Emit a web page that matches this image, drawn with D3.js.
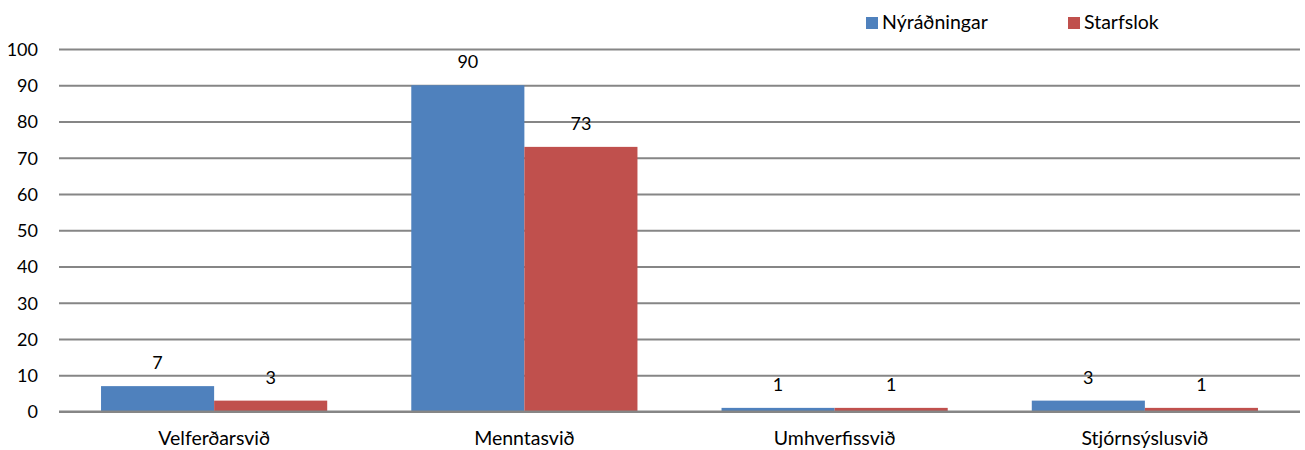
<!DOCTYPE html>
<html><head><meta charset="utf-8">
<script src="https://cdn.jsdelivr.net/npm/d3@7"></script>
<style>body{margin:0;background:#fff;} text{font-family:Lato,"Open Sans",sans-serif;fill:#000;}</style>
</head><body>
<svg id="c" width="1305" height="450"></svg>
<script>
const categories = ["Velferðarsvið","Menntasvið","Umhverfissvið","Stjórnsýslusvið"];
const seriesNames = ["Nýráðningar","Starfslok"];
const nyradningar = [7, 90, 1, 3];
const starfslok = [3, 73, 1, 1];
const yTicks = [0,10,20,30,40,50,60,70,80,90,100];
const colors = ["#4F81BD","#C0504D"];
const values = [nyradningar, starfslok];

(function(){
const FS = 18, FS2 = 19.5;
const svg = d3.select("#c");
const pLeft = 59, pRight = 1300, pTop = 49, pBottom = 411.5;
const x0 = d3.scaleBand().domain(categories).range([pLeft,pRight]);
const y = d3.scaleLinear().domain([0,100]).range([pBottom, pTop]);
const xs = d3.scaleBand().domain(seriesNames).range([0, x0.bandwidth()]).paddingInner(0).paddingOuter(42/113);

// gridlines
const yAxis = d3.axisLeft(y).tickValues(yTicks).tickSize(-(pRight-pLeft)).tickPadding(21);
const ga = svg.append("g").attr("transform",`translate(${pLeft},0)`).call(yAxis);
ga.select(".domain").remove();
ga.selectAll(".tick line").attr("stroke","#868686").attr("stroke-width",2);
ga.selectAll(".tick text").attr("font-size",FS).attr("dy","0.36em").style("font-family","Lato,'Open Sans',sans-serif");

// bars
seriesNames.forEach((s,si)=>{
  const g = svg.append("g");
  g.selectAll("rect").data(categories).join("rect")
    .attr("x", c=>x0(c)+xs(s))
    .attr("width", xs.bandwidth())
    .attr("y", (c,i)=>y(values[si][i]))
    .attr("height", (c,i)=>y(0)-y(values[si][i]))
    .attr("fill", colors[si]);
  g.selectAll("text").data(categories).join("text")
    .attr("x", c=>x0(c)+xs(s)+xs.bandwidth()/2)
    .attr("y", (c,i)=>y(values[si][i])-17)
    .attr("text-anchor","middle").attr("font-size",FS)
    .text((c,i)=>values[si][i]);
});

// baseline
svg.append("line").attr("x1",pLeft).attr("x2",pRight).attr("y1",y(0)).attr("y2",y(0)).attr("stroke","#868686").attr("stroke-width",2);

// x axis labels
const xAxis = d3.axisBottom(x0).tickSize(0).tickPadding(20);
const gx = svg.append("g").attr("transform",`translate(0,${y(0)})`).call(xAxis);
gx.select(".domain").remove();
gx.selectAll("text").attr("font-size",FS2).style("font-family","Lato,'Open Sans',sans-serif");

// legend
const legX = [866, 1068];
seriesNames.forEach((s,i)=>{
  svg.append("rect").attr("x",legX[i]).attr("y",17).attr("width",12).attr("height",12).attr("fill",colors[i]);
  svg.append("text").attr("x",legX[i]+16).attr("y",29).attr("font-size",FS2).text(s);
});
})();
</script>
</body></html>
